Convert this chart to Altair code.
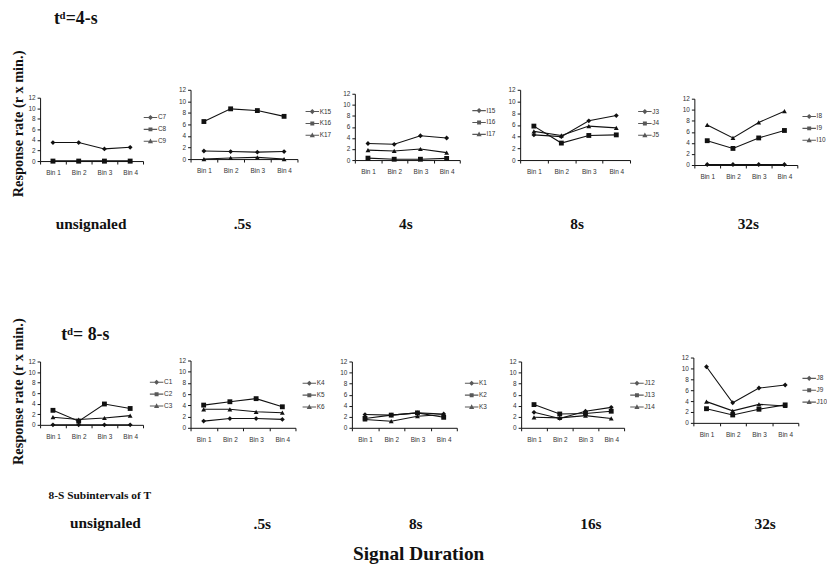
import altair as alt
import pandas as pd

# ---------------- data ----------------
BINS = ["Bin 1", "Bin 2", "Bin 3", "Bin 4"]

# t^d = 4 s row
C7 = [3.5, 3.5, 2.3, 2.6]
C8 = [0.0, 0.0, 0.0, 0.0]
C9 = [0.0, 0.0, 0.0, 0.0]
K15 = [1.4, 1.3, 1.2, 1.3]
K16 = [6.5, 8.7, 8.4, 7.4]
K17 = [0.0, 0.2, 0.3, 0.0]
I15 = [3.0, 2.85, 4.4, 4.0]
I16 = [0.35, 0.15, 0.15, 0.3]
I17 = [1.8, 1.65, 2.0, 1.35]
J3 = [4.3, 4.0, 6.7, 7.6]
J4 = [5.8, 2.9, 4.2, 4.3]
J5 = [4.9, 4.2, 5.8, 5.5]
I8 = [0.1, 0.1, 0.1, 0.1]
I9 = [4.4, 3.0, 4.9, 6.25]
I10 = [7.25, 4.9, 7.7, 9.75]

# t^d = 8 s row
C1 = [0.0, 0.0, 0.0, 0.0]
C2 = [2.75, 0.7, 3.95, 3.1]
C3 = [1.45, 1.0, 1.3, 1.75]
K4 = [1.2, 1.65, 1.65, 1.5]
K5 = [4.05, 4.65, 5.2, 3.75]
K6 = [3.3, 3.3, 2.85, 2.7]
K1 = [2.4, 2.3, 2.7, 2.5]
K2 = [1.7, 2.3, 2.7, 1.9]
K3 = [1.5, 1.2, 2.1, 2.4]
J12 = [2.8, 1.7, 3.0, 3.7]
J13 = [4.2, 2.5, 2.6, 3.0]
J14 = [1.9, 1.8, 2.2, 1.7]
J8 = [10.3, 3.7, 6.4, 6.95]
J9 = [2.6, 1.45, 2.5, 3.3]
J10 = [3.9, 2.2, 3.4, 3.1]

Y_TICKS = [0, 2, 4, 6, 8, 10, 12]
ROW1_CATS = ["unsignaled", ".5s", "4s", "8s", "32s"]
ROW2_CATS = ["unsignaled", ".5s", "8s", "16s", "32s"]
ROW1_NAMES = [["C7", "C8", "C9"], ["K15", "K16", "K17"], ["I15", "I16", "I17"],
              ["J3", "J4", "J5"], ["I8", "I9", "I10"]]
ROW2_NAMES = [["C1", "C2", "C3"], ["K4", "K5", "K6"], ["K1", "K2", "K3"],
              ["J12", "J13", "J14"], ["J8", "J9", "J10"]]
ROW1_SERIES = [[C7, C8, C9], [K15, K16, K17], [I15, I16, I17], [J3, J4, J5], [I8, I9, I10]]
ROW2_SERIES = [[C1, C2, C3], [K4, K5, K6], [K1, K2, K3], [J12, J13, J14], [J8, J9, J10]]

TD1 = "t\u1d48=4-s"
TD2 = "t\u1d48= 8-s"
YTITLE = "Response rate (r x min.)"
SUBTITLE = "8-S Subintervals of T"
XTITLE = "Signal Duration"

# ---------------- style / layout ----------------
SERIF = "Liberation Serif, DejaVu Serif, serif"
SANS = "Liberation Sans, Arial, sans-serif"
INK = "#111111"
SHAPES = ["diamond", "square", "triangle-up"]
LEG_SHAPES = [
    "M-1.7,-0.14H1.7V0.14H-1.7ZM0,-0.65L0.65,0L0,0.65L-0.65,0Z",
    "M-1.7,-0.14H1.7V0.14H-1.7ZM-0.5,-0.5H0.5V0.5H-0.5Z",
    "M-1.7,-0.14H1.7V0.14H-1.7ZM0,-0.7L0.65,0.5H-0.65Z",
]

ROW1_H = 76
ROW2_H = 71
ROW1_LAYOUT = [
    dict(w=104, t=8, b=72, lx=107.5, ly=24, pad=6.5, cat_pad=41, cat_x=51, ytitle_y=34,
         title=alt.TitleParams(TD1, anchor="start", frame="group", offset=21.7, dx=14,
                               font=SERIF, fontSize=18, fontWeight="bold", color=INK)),
    dict(w=108, t=0, b=70, lx=119, ly=18, pad=4.7, cat_pad=43, cat_x=52),
    dict(w=106, t=4, b=71, lx=121.5, ly=17, pad=5.8, cat_pad=42, cat_x=51),
    dict(w=111, t=0, b=71, lx=122, ly=18, pad=16.4, cat_pad=42, cat_x=57),
    dict(w=104, t=9, b=76, lx=112, ly=23, pad=0, cat_pad=37, cat_x=54),
]
ROW2_LAYOUT = [
    dict(w=104, t=4, b=68, lx=113.7, ly=21, pad=0, ytitle_y=34,
         sub_pad=49.9, sub_x=8, td=TD2, td_pad=14.2, td_x=21,
         title=alt.TitleParams(ROW2_CATS[0], orient="bottom", frame="group", anchor="middle",
                               dx=14, offset=15.6, font=SERIF, fontSize=15.5,
                               fontWeight="bold", color=INK)),
    dict(w=106, t=3, b=71, lx=116, ly=22, pad=8.4, cat_pad=74, cat_x=72),
    dict(w=106, t=4, b=71, lx=117, ly=22, pad=15.4, cat_pad=74, cat_x=64),
    dict(w=104, t=4, b=71, lx=113, ly=22, pad=19.8, cat_pad=74, cat_x=70),
    dict(w=106, t=0, b=66, lx=113, ly=17, pad=0, cat_pad=79, cat_x=72),
]


def build_panel(names, series, cat, L, H):
    df = pd.DataFrame({
        "bin": [b for _ in names for b in BINS],
        "series": [n for n in names for _ in BINS],
        "value": [v for vals in series for v in vals],
    })
    xs = alt.Scale(type="band", domain=BINS, paddingInner=0, paddingOuter=0)
    ys = alt.Scale(domain=[0, 12], nice=False, range=[L["b"], L["t"]])

    xa = dict(tickBand="extent", labelAngle=0, labelPadding=6, tickSize=3,
              offset=L["b"] - H, labelOverlap=False)
    if "sub_pad" in L:
        xa.update(title=SUBTITLE, titleFont=SERIF, titleFontSize=11.5, titleFontWeight="bold",
                  titleColor=INK, titlePadding=L["sub_pad"], titleX=L["sub_x"],
                  titleAlign="left", titleBaseline="top")
    else:
        xa.update(title=cat, titleFont=SERIF, titleFontSize=15.5, titleFontWeight="bold",
                  titleColor=INK, titlePadding=L["cat_pad"], titleX=L["cat_x"],
                  titleAlign="center", titleBaseline="top")
    ya = dict(values=Y_TICKS, tickCount=7, tickSize=3, labelPadding=2,
              labelOverlap=False)
    if "ytitle_y" in L:
        ya.update(title=YTITLE, titleFont=SERIF, titleFontSize=14.5, titleFontWeight="bold",
                  titleColor=INK, titlePadding=3, titleY=L["ytitle_y"])
    else:
        ya.update(title=None)
    yaxis = alt.Axis(**ya)
    xaxis = alt.Axis(**xa)

    lines = alt.Chart(df).mark_line(color=INK, strokeWidth=1.1).encode(
        x=alt.X("bin:N", scale=xs, axis=xaxis),
        y=alt.Y("value:Q", scale=ys, axis=yaxis),
        detail="series:N",
    )
    pts = alt.Chart(df).mark_point(filled=True, color=INK, size=24, opacity=1).encode(
        x=alt.X("bin:N", scale=xs, axis=xaxis),
        y=alt.Y("value:Q", scale=ys, axis=yaxis),
        shape=alt.Shape("series:N", scale=alt.Scale(domain=names, range=SHAPES), legend=None),
    )
    leg = alt.Legend(title=None, orient="none", legendX=L["lx"] - L["pad"],
                     legendY=L["ly"] - L["pad"], padding=L["pad"], symbolSize=64,
                     symbolFillColor=INK, symbolStrokeColor=INK, symbolStrokeWidth=0,
                     labelFont=SANS, labelFontSize=6.5, labelColor="#333333",
                     labelOffset=3.5, rowPadding=4)
    if "td" in L:
        lx = alt.X("bin:N", scale=xs,
                   axis=alt.Axis(orient="top", labels=False, ticks=False, domain=False,
                                 title=L["td"], titleFont=SERIF, titleFontSize=18,
                                 titleFontWeight="bold", titleColor=INK,
                                 titlePadding=L["td_pad"], titleX=L["td_x"],
                                 titleAlign="left", titleBaseline="bottom"))
    else:
        lx = alt.X("bin:N", scale=xs, axis=xaxis)
    legend_layer = alt.Chart(df).transform_filter("false").mark_point(
        filled=True, color=INK).encode(
        x=lx,
        y=alt.Y("value:Q", scale=ys),
        shape=alt.Shape("series:N", scale=alt.Scale(domain=names, range=LEG_SHAPES), legend=leg),
    )
    if "td" in L:
        ch = alt.layer(alt.layer(lines, pts), legend_layer).resolve_scale(
            x="independent", shape="independent")
    else:
        ch = alt.layer(lines, pts, legend_layer).resolve_scale(shape="independent")
    props = dict(width=L["w"], height=H)
    if "title" in L:
        props["title"] = L["title"]
    return ch.properties(**props)


row1 = alt.hconcat(*[build_panel(n, s, c, L, ROW1_H) for n, s, c, L in
                     zip(ROW1_NAMES, ROW1_SERIES, ROW1_CATS, ROW1_LAYOUT)], spacing=5)
row2 = alt.hconcat(*[build_panel(n, s, c, L, ROW2_H) for n, s, c, L in
                     zip(ROW2_NAMES, ROW2_SERIES, ROW2_CATS, ROW2_LAYOUT)], spacing=5)

chart = alt.vconcat(
    row1, row2, spacing=85.5,
    title=alt.TitleParams(XTITLE, orient="bottom", anchor="middle", offset=14,
                          font=SERIF, fontSize=19.5, fontWeight="bold", color=INK),
    padding={"left": 9.5, "top": 7.8, "right": 0, "bottom": 0},
).configure_view(stroke=None).configure_axis(
    domainColor=INK, tickColor=INK, domainWidth=1, tickWidth=1, grid=False,
    labelFont=SANS, labelFontSize=6.5, labelColor="#333333", labelOverlap=False,
)

chart.save("out.html", embed_options={"renderer": "svg", "actions": False})
